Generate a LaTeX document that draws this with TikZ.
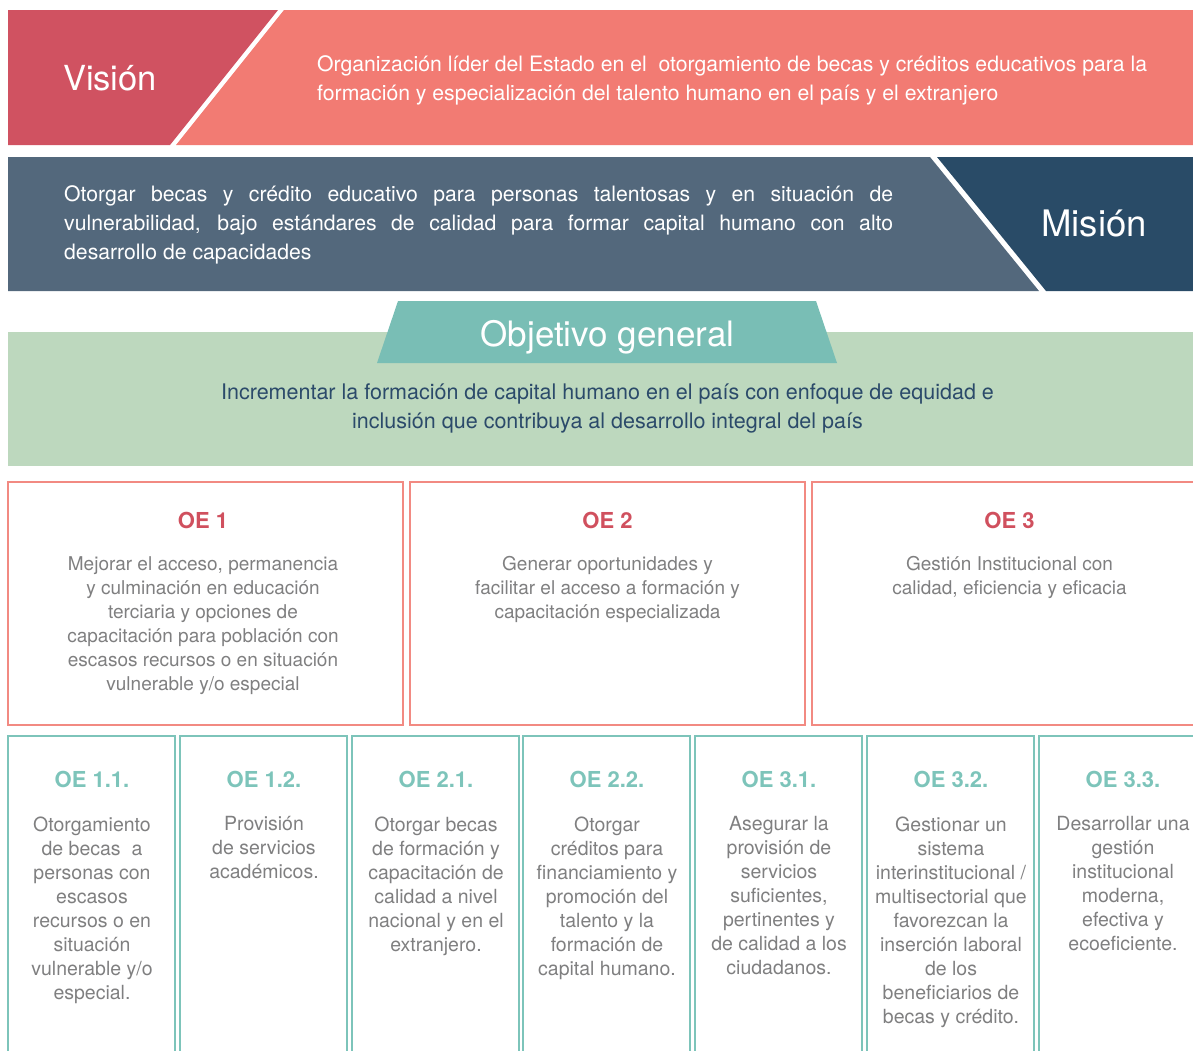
\documentclass[tikz,border=0pt]{standalone}
\usepackage{fontspec}
\setmainfont{TeX Gyre Heros}
\usetikzlibrary{positioning}

\definecolor{visdark}{HTML}{D05261}
\definecolor{vislight}{HTML}{F27B73}
\definecolor{misgray}{HTML}{53687C}
\definecolor{misdark}{HTML}{294B67}
\definecolor{ogteal}{HTML}{79BEB5}
\definecolor{oggreen}{HTML}{BDD8BE}
\definecolor{ogtext}{HTML}{2B4A6A}
\definecolor{oered}{HTML}{D0505E}
\definecolor{oeline}{HTML}{F28A82}
\definecolor{subteal}{HTML}{7DC4BA}
\definecolor{bodygray}{HTML}{7F7F80}

\begin{document}
\begin{tikzpicture}[
  x=1pt,y=-1pt,
  inner sep=0pt,
  head/.style={font=\fontsize{34.5}{38}\selectfont,text=white},
  band/.style={font=\fontsize{21.2}{29}\selectfont,text=white},
  oebox/.style={draw=oeline,line width=1.5pt},
  subbox/.style={draw=subteal,line width=1.8pt},
  oetitle/.style={font=\bfseries\fontsize{22}{26}\selectfont,text=oered},
  subtitle/.style={font=\bfseries\fontsize{22}{26}\selectfont,text=subteal},
  oetext/.style={font=\fontsize{19.5}{24}\selectfont,text=bodygray,align=center}
]
\useasboundingbox (0,0) rectangle (1193,1050);
\clip (0,0) rectangle (1193,1050);

% vision
\fill[visdark] (8,10) -- (278,10) -- (170,145) -- (8,145) -- cycle;
\fill[vislight] (284,10) -- (1210,10) -- (1210,145) -- (176,145) -- cycle;
\node[head,anchor=base] (vision) at (110,90) {Visión};
\node[band,anchor=north west,align=left] (visiontext) at (317,55.5)
  {Organización líder del Estado en el\ \ otorgamiento de becas y créditos educativos para la\\
   formación y especialización del talento humano en el país y el extranjero};

% mision
\fill[misgray] (8,157) -- (930,157) -- (1039,291) -- (8,291) -- cycle;
\fill[misdark] (937,157) -- (1210,157) -- (1210,291) -- (1046,291) -- cycle;
\node[head,font=\fontsize{36.5}{40}\selectfont,anchor=base] (mision) at (1094,236) {Misión};
\node[band,anchor=north west,text width=829pt,align=justify] (misiontext) at (64,185)
  {Otorgar becas y crédito educativo para personas talentosas y en situación de\linebreak
   vulnerabilidad, bajo estándares de calidad para formar capital humano con alto\linebreak
   desarrollo de capacidades};

% objetivo general
\fill[oggreen] (8,332) rectangle (1210,466);
\fill[ogteal] (398,301) -- (816,301) -- (837,363) -- (377,363) -- cycle;
\node[head,font=\fontsize{35}{38}\selectfont,anchor=base] (og) at (607.5,346) {Objetivo general};
\node[band,font=\fontsize{21.5}{29}\selectfont,text=ogtext,anchor=north,align=center] (ogtext) at (607.5,384)
  {Incrementar la formación de capital humano en el país con enfoque de equidad e\\
   inclusión que contribuya al desarrollo integral del país};

% objetivos especificos
\draw[oebox] (8,482) rectangle (403,725);
\draw[oebox] (410,482) rectangle (805,725);
\draw[oebox] (812,482) rectangle (1207,725);

\node[oetitle,anchor=base] (oe1) at (203,528) {OE 1};
\node[oetext,font=\fontsize{19}{24}\selectfont,below=28pt of oe1] (oe1text)
  {Mejorar el acceso, permanencia\\ y culminación en educación\\ terciaria y opciones de\\
   capacitación para población con\\ escasos recursos o en situación\\ vulnerable y/o especial};
\node[oetitle,anchor=base] (oe2) at (607.5,528) {OE 2};
\node[oetext,font=\fontsize{19}{24}\selectfont,below=28pt of oe2] (oe2text)
  {Generar oportunidades y\\ facilitar el acceso a formación y\\ capacitación especializada};
\node[oetitle,anchor=base] (oe3) at (1009.5,528) {OE 3};
\node[oetext,font=\fontsize{19}{24}\selectfont,below=28pt of oe3] (oe3text)
  {Gestión Institucional con\\ calidad, eficiencia y eficacia};

% sub objetivos
\draw[subbox] (8,736) rectangle (175,1060);
\draw[subbox] (180,736) rectangle (347,1060);
\draw[subbox] (352,736) rectangle (519,1060);
\draw[subbox] (523,736) rectangle (690,1060);
\draw[subbox] (695,736) rectangle (862,1060);
\draw[subbox] (867,736) rectangle (1034,1060);
\draw[subbox] (1039,736) rectangle (1206,1060);

\node[subtitle,anchor=base] (oe11) at (92,787) {OE 1.1.};
\node[oetext,below=29pt of oe11] (oe11text)
  {Otorgamiento\\ de becas\ \ a\\ personas con\\ escasos\\ recursos o en\\ situación\\ vulnerable y/o\\ especial.};
\node[subtitle,anchor=base] (oe12) at (264,787) {OE 1.2.};
\node[oetext,below=29pt of oe12] (oe12text)
  {Provisión\\ de servicios\\ académicos.};
\node[subtitle,anchor=base] (oe21) at (436,787) {OE 2.1.};
\node[oetext,below=29pt of oe21] (oe21text)
  {Otorgar becas\\ de formación y\\ capacitación de\\ calidad a nivel\\ nacional y en el\\ extranjero.};
\node[subtitle,anchor=base] (oe22) at (607,787) {OE 2.2.};
\node[oetext,below=29pt of oe22] (oe22text)
  {Otorgar\\ créditos para\\ financiamiento y\\ promoción del\\ talento y la\\ formación de\\ capital humano.};
\node[subtitle,anchor=base] (oe31) at (779,787) {OE 3.1.};
\node[oetext,below=29pt of oe31] (oe31text)
  {Asegurar la\\ provisión de\\ servicios\\ suficientes,\\ pertinentes y\\ de calidad a los\\ ciudadanos.};
\node[subtitle,anchor=base] (oe32) at (951,787) {OE 3.2.};
\node[oetext,below=29pt of oe32] (oe32text)
  {Gestionar un\\ sistema\\ interinstitucional /\\ multisectorial que\\ favorezcan la\\ inserción laboral\\ de los\\ beneficiarios de\\ becas y crédito.};
\node[subtitle,anchor=base] (oe33) at (1123,787) {OE 3.3.};
\node[oetext,below=29pt of oe33] (oe33text)
  {Desarrollar una\\ gestión\\ institucional\\ moderna,\\ efectiva y\\ ecoeficiente.};
\end{tikzpicture}
\end{document}
